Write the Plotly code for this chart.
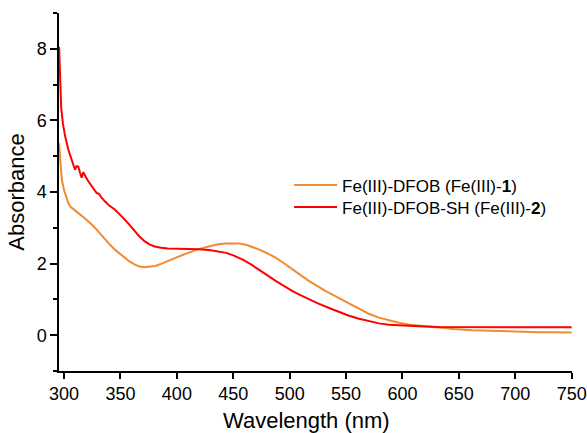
import plotly.graph_objects as go

# Fe(III)-DFOB (Fe(III)-1)
wl_1 = [295.5, 296.5, 298, 300, 302, 303.8, 306, 309, 312.6, 317, 321.5, 325, 328.9, 332, 336.2,
        340, 345, 350, 353.9, 358, 362.7, 367, 371.6, 376, 380.4, 385, 389.2, 394, 398, 402.5,
        410, 420.1, 430, 437, 443.7, 450, 455.5, 462, 467, 473.1, 480, 487.9, 495, 502.5, 510,
        517.3, 525, 532, 540, 549.7, 555, 561.5, 570, 579.2, 588, 596.8, 605, 614.5, 623, 632.2, 645,
        661.6, 675, 691, 705, 720.5, 735, 750]
abs_1 = [5.37, 4.9, 4.34, 4.05, 3.85, 3.69, 3.58, 3.49, 3.41, 3.30, 3.18, 3.08, 2.95, 2.83, 2.67,
         2.55, 2.39, 2.26, 2.16, 2.06, 1.97, 1.92, 1.90, 1.905, 1.93, 1.98, 2.04, 2.10, 2.16, 2.21,
         2.30, 2.41, 2.49, 2.54, 2.56, 2.57, 2.56, 2.52, 2.47, 2.39, 2.29, 2.16, 2.01, 1.83, 1.67,
         1.51, 1.36, 1.23, 1.10, 0.95, 0.85, 0.74, 0.60, 0.49, 0.41, 0.35, 0.30, 0.27, 0.24, 0.21, 0.175,
         0.14, 0.125, 0.11, 0.095, 0.085, 0.08, 0.075]

# Fe(III)-DFOB-SH (Fe(III)-2)
wl_2 = [295.6, 296.5, 297.4, 299, 301, 303.8, 306, 308, 309.7, 311, 312.6, 314, 315.6, 317, 318.5,
        320, 321.5, 324, 326, 328.9, 331, 333, 336.2, 340, 345, 350, 353.9, 358, 362.7, 367,
        371.6, 376, 380.4, 386, 392, 400, 410, 420, 430, 443.7, 450, 458.4, 465, 473.1, 480,
        487.9, 495, 502.5, 510, 517.3, 525, 535, 543.8, 552, 561.5, 570, 579.2, 588, 596.8, 614.5,
        632.2, 660, 700, 750]
abs_2 = [8.05, 7.2, 6.37, 5.9, 5.55, 5.18, 4.95, 4.78, 4.62, 4.72, 4.71, 4.55, 4.40, 4.55, 4.45,
         4.38, 4.30, 4.18, 4.10, 3.97, 3.95, 3.85, 3.74, 3.62, 3.51, 3.36, 3.23, 3.08, 2.90, 2.75,
         2.62, 2.53, 2.48, 2.44, 2.42, 2.42, 2.42, 2.40, 2.37, 2.30, 2.23, 2.11, 1.99, 1.83, 1.68,
         1.51, 1.37, 1.23, 1.11, 1.00, 0.89, 0.76, 0.64, 0.55, 0.46, 0.39, 0.33, 0.29, 0.27, 0.25,
         0.23, 0.225, 0.22, 0.22]

name_1 = "Fe(III)-DFOB (Fe(III)-<b>1</b>)"
name_2 = "Fe(III)-DFOB-SH (Fe(III)-<b>2</b>)"

x_ticks = [300, 350, 400, 450, 500, 550, 600, 650, 700, 750]
y_ticks = [0, 2, 4, 6, 8]
y_minor = [-1, 1, 3, 5, 7, 9]

FONT = "Liberation Sans, Arial, sans-serif"

fig = go.Figure()
fig.add_trace(go.Scatter(x=wl_1, y=abs_1, mode="lines", name=name_1, legend="legend",
                         line=dict(color="#F28A30", width=2)))
fig.add_trace(go.Scatter(x=wl_2, y=abs_2, mode="lines", name=name_2, legend="legend2",
                         line=dict(color="#FF0000", width=2)))

leg_common = dict(xanchor="left", yanchor="middle", bgcolor="rgba(0,0,0,0)",
                  font=dict(size=17, family=FONT, color="black"), itemwidth=43)

fig.update_layout(
    width=587, height=433,
    margin=dict(l=59, r=15, t=13, b=62),
    paper_bgcolor="white", plot_bgcolor="white",
    font=dict(family=FONT, color="black", size=18),
    showlegend=True,
    legend=dict(x=0.4485, y=0.518, **leg_common),
    legend2=dict(x=0.4485, y=0.457, **leg_common),
    xaxis=dict(range=[295.5, 750.3], tickvals=x_ticks, showgrid=False, zeroline=False,
               showline=True, linecolor="black", linewidth=1.5, automargin=False,
               ticks="outside", ticklen=6, tickwidth=1.5, tickcolor="black",
               ticklabeloverflow="allow",
               tickfont=dict(size=18, family=FONT),
               title=dict(text="Wavelength (nm)&nbsp;&nbsp;&nbsp;", font=dict(size=22, family=FONT),
                          standoff=10)),
    yaxis=dict(range=[-1, 9], tickvals=y_ticks, showgrid=False, zeroline=False,
               showline=True, linecolor="black", linewidth=1.5, automargin=False,
               ticks="outside", ticklen=7, tickwidth=1.5, tickcolor="black",
               tickfont=dict(size=18, family=FONT),
               minor=dict(tickvals=y_minor, ticks="outside", ticklen=4,
                          tickwidth=1.5, tickcolor="black", showgrid=False),
               title=dict(text="Absorbance", font=dict(size=22, family=FONT), standoff=6)),
)

fig.write_html("out.html")
